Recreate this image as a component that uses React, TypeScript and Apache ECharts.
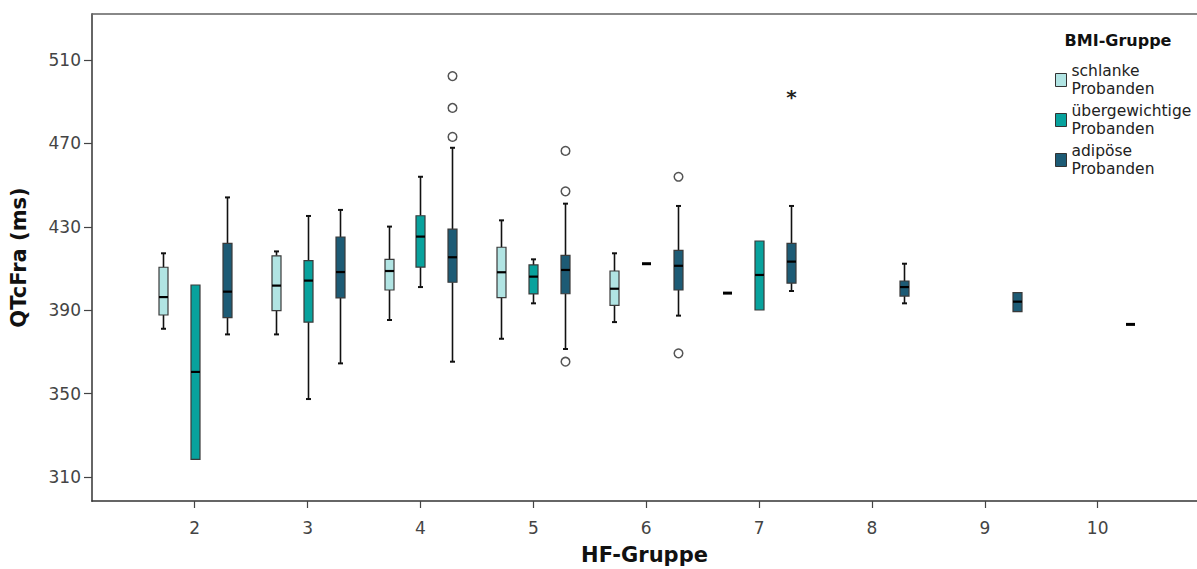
import React, { useEffect, useRef } from "react";
import * as echarts from "echarts";

// HF-Gruppe, min, Q1, median, Q3, max
const schlank: number[][] = [
  [2, 381.1, 387.7, 396.3, 410.6, 417.3],
  [3, 378.4, 389.8, 401.8, 416.1, 418.2],
  [4, 385.3, 399.7, 408.8, 414.4, 430.1],
  [5, 376.3, 396.0, 408.2, 420.2, 433.1],
  [6, 384.3, 392.3, 400.3, 408.8, 417.3],
  [7, 398.2, 398.2, 398.2, 398.2, 398.2],
];
const uebergewichtig: number[][] = [
  [2, 318.5, 318.5, 360.4, 402.1, 402.1],
  [3, 347.4, 384.3, 404.2, 413.8, 435.2],
  [4, 401.1, 410.7, 425.3, 435.3, 454.0],
  [5, 393.3, 397.8, 406.1, 411.7, 414.4],
  [6, 412.3, 412.3, 412.3, 412.3, 412.3],
  [7, 390.1, 390.1, 406.9, 423.2, 423.2],
];
const adipoes: number[][] = [
  [2, 378.4, 386.4, 398.9, 422.1, 444.1],
  [3, 364.5, 395.9, 408.3, 425.1, 438.1],
  [4, 365.3, 403.4, 415.4, 428.9, 467.9],
  [5, 371.4, 397.9, 409.3, 416.3, 441.1],
  [6, 387.4, 399.7, 411.3, 418.7, 440.0],
  [7, 399.2, 403.0, 413.3, 422.1, 440.0],
  [8, 393.3, 396.8, 401.1, 404.0, 412.3],
  [9, 389.3, 389.3, 394.1, 398.4, 398.4],
  [10, 383.2, 383.2, 383.2, 383.2, 383.2],
];
const adipoesOutliers: number[][] = [
  [4, 502.3], [4, 487.0], [4, 473.1],
  [5, 466.4], [5, 447.0], [5, 365.3],
  [6, 454.0], [6, 369.3],
];
const adipoesExtremes: number[][] = [[7, 494.7]];

const groupNames = ["schlanke Probanden", "übergewichtige Probanden", "adipöse Probanden"];
const groupColors = ["#b1e4e3", "#08a29d", "#1d5b75"];
const xTicks = [2, 3, 4, 5, 6, 7, 8, 9, 10];
const yTicks = [310, 350, 390, 430, 470, 510];

const FONT = "DejaVu Sans";
const OFFSETS = [-0.283, 0, 0.283];

function boxRenderer(offset: number, color: string) {
  return (params: any, api: any) => {
    const x = api.value(0) + offset;
    const lo = api.coord([x, api.value(1)]);
    const q1 = api.coord([x, api.value(2)]);
    const med = api.coord([x, api.value(3)]);
    const q3 = api.coord([x, api.value(4)]);
    const hi = api.coord([x, api.value(5)]);
    const cx = Math.round(med[0]) + 0.5;
    const half = 4.5;
    const cap = 2.5;
    const children: any[] = [];
    const wStyle = { stroke: "#111", lineWidth: 1.6 };
    if (hi[1] < q3[1] - 0.5) {
      children.push({ type: "line", shape: { x1: cx, y1: hi[1], x2: cx, y2: q3[1] }, style: wStyle });
      children.push({ type: "line", shape: { x1: cx - cap, y1: hi[1], x2: cx + cap, y2: hi[1] }, style: { stroke: "#111", lineWidth: 2 } });
    }
    if (lo[1] > q1[1] + 0.5) {
      children.push({ type: "line", shape: { x1: cx, y1: q1[1], x2: cx, y2: lo[1] }, style: wStyle });
      children.push({ type: "line", shape: { x1: cx - cap, y1: lo[1], x2: cx + cap, y2: lo[1] }, style: { stroke: "#111", lineWidth: 2 } });
    }
    if (q1[1] - q3[1] > 0.5) {
      children.push({
        type: "rect",
        shape: { x: cx - half, y: q3[1], width: half * 2, height: q1[1] - q3[1] },
        style: { fill: color, stroke: "#3a3a3a", lineWidth: 1.2 },
      });
      children.push({ type: "line", shape: { x1: cx - half, y1: med[1], x2: cx + half, y2: med[1] }, style: { stroke: "#000", lineWidth: 2.2 } });
    } else {
      children.push({ type: "line", shape: { x1: cx - half, y1: med[1], x2: cx + half, y2: med[1] }, style: { stroke: "#000", lineWidth: 3 } });
    }
    return { type: "group", children };
  };
}

export default function App() {
  const ref = useRef<HTMLDivElement>(null);
  useEffect(() => {
    document.body.style.margin = "0";
    const chart = echarts.init(ref.current!, undefined, { renderer: "svg" });
    const datasets = [schlank, uebergewichtig, adipoes];
    const series: any[] = datasets.map((d, i) => ({
      type: "custom",
      name: groupNames[i],
      data: d,
      encode: { x: 0, y: [1, 2, 3, 4, 5] },
      itemStyle: { color: groupColors[i] },
      renderItem: boxRenderer(OFFSETS[i], groupColors[i]),
      z: 3,
    }));
    series.push({
      type: "custom",
      name: "outliers",
      data: adipoesOutliers,
      encode: { x: 0, y: 1 },
      renderItem: (params: any, api: any) => {
        const p = api.coord([api.value(0) + OFFSETS[2], api.value(1)]);
        return {
          type: "circle",
          shape: { cx: Math.round(p[0]) + 0.5, cy: p[1], r: 4.3 },
          style: { fill: "#fff", stroke: "#555", lineWidth: 1.5 },
        };
      },
      z: 4,
    });
    series.push({
      type: "custom",
      name: "extremes",
      data: adipoesExtremes,
      encode: { x: 0, y: 1 },
      renderItem: (params: any, api: any) => {
        const p = api.coord([api.value(0) + OFFSETS[2], api.value(1)]);
        return {
          type: "text",
          x: Math.round(p[0]) + 0.5,
          y: p[1] + 5,
          style: { text: "*", fill: "#222", font: `bold 20px ${FONT}`, align: "center", verticalAlign: "middle" },
        };
      },
      z: 4,
    });

    chart.setOption({
      animation: false,
      backgroundColor: "#fff",
      grid: { left: 92, right: 0, top: 14, bottom: 68, containLabel: false, outerBoundsMode: "none" },
      xAxis: {
        type: "value",
        min: 1.09,
        max: 10.88,
        name: "HF-Gruppe",
        nameLocation: "middle",
        nameGap: 43,
        nameTextStyle: { fontFamily: FONT, fontWeight: "bold", fontSize: 21, color: "#111" },
        axisLine: { show: true, lineStyle: { color: "#333", width: 1.5 } },
        axisTick: { show: true, length: 7, lineStyle: { color: "#444", width: 1.2 }, customValues: xTicks },
        axisLabel: { customValues: xTicks, fontFamily: FONT, fontSize: 17, color: "#444", margin: 18 },
        splitLine: { show: false },
      },
      yAxis: {
        type: "value",
        min: 298.5,
        max: 532.06,
        name: "QTcFra (ms)",
        nameLocation: "middle",
        nameGap: 63,
        nameTextStyle: { fontFamily: FONT, fontWeight: "bold", fontSize: 21, color: "#111" },
        axisLine: { show: true, lineStyle: { color: "#666", width: 2 } },
        axisTick: { show: true, length: 8, lineStyle: { color: "#444", width: 1.2 }, customValues: yTicks },
        axisLabel: { customValues: yTicks, fontFamily: FONT, fontSize: 17, color: "#444", margin: 11 },
        splitLine: { show: false },
      },
      legend: {
        data: groupNames,
        orient: "vertical",
        left: 1050,
        top: 57,
        itemWidth: 11,
        itemHeight: 13,
        itemGap: 4,
        icon: "rect",
        itemStyle: { borderColor: "#333", borderWidth: 1 },
        formatter: (name: string) => name.replace(" ", "\n"),
        textStyle: { fontFamily: FONT, fontSize: 15.5, lineHeight: 18, color: "#222" },
        selectedMode: false,
      },
      graphic: [
        { type: "line", shape: { x1: 92, y1: 14, x2: 1197, y2: 14 }, style: { stroke: "#888", lineWidth: 2 } },
        {
          type: "text",
          x: 1118,
          y: 40,
          style: { text: "BMI-Gruppe", font: `bold 16px ${FONT}`, fill: "#111", align: "center", verticalAlign: "middle" },
        },
      ],
      series,
    });
    return () => chart.dispose();
  }, []);
  return <div ref={ref} style={{ width: 1197, height: 569 }} />;
}
